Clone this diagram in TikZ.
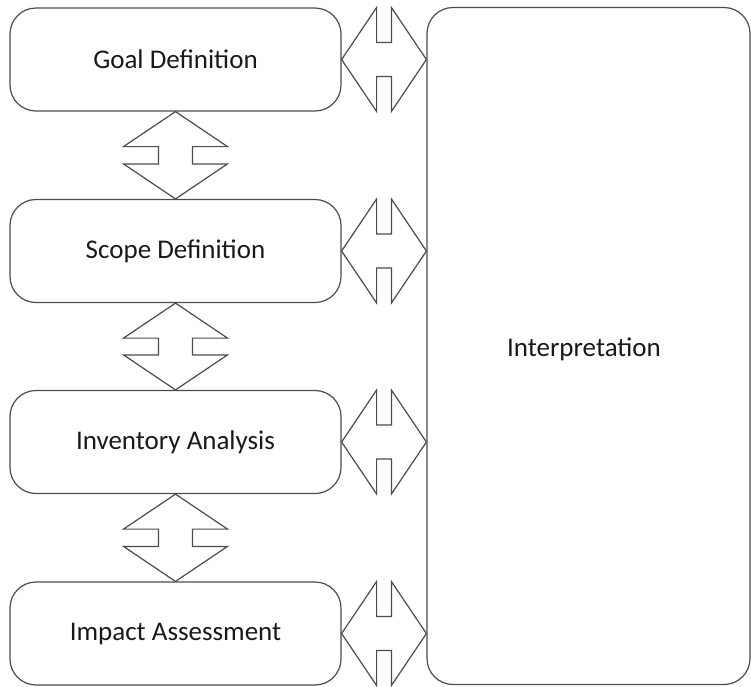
\documentclass[tikz,border=0pt]{standalone}
\usepackage{fontspec}
\setmainfont{Carlito}
\usetikzlibrary{calc}
\begin{document}
\begin{tikzpicture}[x=1pt,y=-1pt,
  line width=1.2pt,
  stage/.style={draw=black!70, rounded corners=26pt, minimum width=331pt, minimum height=103pt,
    inner sep=0pt, font=\fontsize{27}{32}\selectfont, text=black!90},
  blockarrow/.style={draw=black!70, line join=miter, fill=white}
]
\useasboundingbox (0,0) rectangle (751,686);
\node[stage] (goal) at (175.5,59.5) {Goal Definition};
\node[stage] (scope) at (175.5,251) {Scope Definition};
\node[stage] (inv) at (175.5,442) {Inventory Analysis};
\node[stage] (imp) at (175.5,633.5) {Impact Assessment};
\node[stage, minimum width=323pt, minimum height=677pt] (interp) at (588.5,346) {};
\node[font=\fontsize{27}{32}\selectfont, text=black!90] (interplabel) at (584,349) {Interpretation};
% vertical double arrows
\foreach \a/\b in {goal/scope, scope/inv, inv/imp}{
  \coordinate (T) at (\a.south);
  \coordinate (B) at (\b.north);
  \draw[blockarrow] (T) -- ($(T)+(-52,35)$) -- ($(T)+(-17,35)$) -- ($(B)+(-17,-35)$) -- ($(B)+(-52,-35)$)
    -- (B) -- ($(B)+(52,-35)$) -- ($(B)+(17,-35)$) -- ($(T)+(17,35)$) -- ($(T)+(52,35)$) -- cycle;
}
% horizontal double arrows
\foreach \a in {goal, scope, inv, imp}{
  \coordinate (L) at (\a.east);
  \coordinate (R) at (interp.west |- \a.east);
  \draw[blockarrow] (L) -- ($(L)+(35,-52)$) -- ($(L)+(35,-17)$) -- ($(R)+(-35,-17)$) -- ($(R)+(-35,-52)$)
    -- (R) -- ($(R)+(-35,52)$) -- ($(R)+(-35,17)$) -- ($(L)+(35,17)$) -- ($(L)+(35,52)$) -- cycle;
}
\end{tikzpicture}
\end{document}
